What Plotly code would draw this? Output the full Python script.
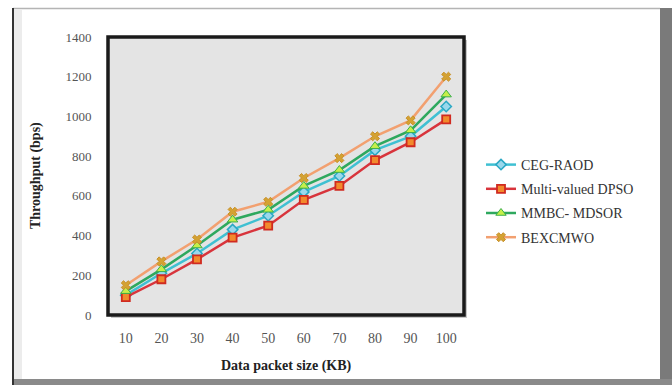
import plotly.graph_objects as go

categories = ["10", "20", "30", "40", "50", "60", "70", "80", "90", "100"]
ceg_raod = [100, 210, 310, 430, 500, 620, 700, 830, 900, 1050]
dpso = [90, 180, 280, 390, 450, 580, 650, 780, 870, 985]
mmbc = [120, 230, 350, 480, 530, 650, 730, 850, 930, 1110]
bexcmwo = [150, 270, 380, 520, 570, 690, 790, 900, 980, 1200]
y_ticks = [0, 200, 400, 600, 800, 1000, 1200, 1400]

W, H = 672, 385
L, R, T, B = 108, 464, 37, 315

def px(x):
    return (x - L) / (R - L)

def py(y):
    return (B - y) / (B - T)

fig = go.Figure()
series = [
    ("CEG-RAOD", ceg_raod, "#3fc0d2", dict(symbol="diamond", size=8, color="#9ad8ec", line=dict(color="#2aa8c4", width=1.5))),
    ("Multi-valued DPSO", dpso, "#d8343c", dict(symbol="square", size=8, color="#f28a2c", line=dict(color="#d02a20", width=1.8))),
    ("MMBC- MDSOR", mmbc, "#2ea85e", dict(symbol="triangle-up", size=9, color="#c6ef4a", line=dict(color="#3cb04a", width=1))),
    ("BEXCMWO", bexcmwo, "#f2a070", dict(symbol="x", size=8, color="#d4a232", line=dict(color="#c89028", width=1))),
]
for i, (name, vals, col, mk) in enumerate(series):
    fig.add_trace(go.Scatter(x=categories, y=vals, name=name, mode="lines+markers",
                             line=dict(color=col, width=2.5), marker=mk, legendgroup=str(i)))

shapes = []
# outer frame
shapes.append(dict(type="rect", xref="paper", yref="paper", x0=px(660), x1=px(672), y0=py(385), y1=py(8),
                   fillcolor="#7a7a7a", line=dict(width=0), layer="below"))
shapes.append(dict(type="rect", xref="paper", yref="paper", x0=px(13), x1=px(672), y0=py(385), y1=py(379),
                   fillcolor="#8a8a8a", line=dict(width=0), layer="below"))
shapes.append(dict(type="line", xref="paper", yref="paper", x0=px(13), x1=px(660), y0=py(8.5), y1=py(8.5),
                   line=dict(color="#b4b4b4", width=1.5)))
shapes.append(dict(type="line", xref="paper", yref="paper", x0=px(13), x1=px(13), y0=py(8), y1=py(385),
                   line=dict(color="#333333", width=2)))
shapes.append(dict(type="rect", xref="paper", yref="paper", x0=px(14), x1=px(22), y0=py(379), y1=py(10),
                   fillcolor="#ececec", line=dict(width=0), layer="below"))
# plot box shadow and border
shapes.append(dict(type="rect", xref="paper", yref="paper", x0=px(L + 3), x1=px(R + 3), y0=py(B + 3), y1=py(T + 3),
                   fillcolor="#c8c8c8", line=dict(width=0), layer="below"))
shapes.append(dict(type="rect", xref="paper", yref="paper", x0=0, x1=1, y0=0, y1=1,
                   fillcolor="#e4e4e4", line=dict(width=0), layer="below"))
shapes.append(dict(type="rect", xref="paper", yref="paper", x0=0, x1=1, y0=0, y1=1,
                   line=dict(color="#1a1a1a", width=3.5)))

serif = "Liberation Serif"
annotations = [
    dict(text="<b>Throughput (bps)</b>", xref="paper", yref="paper", x=px(36), y=py(176),
         xanchor="center", yanchor="middle",
         showarrow=False, textangle=-90, font=dict(family=serif, size=14, color="#222")),
    dict(text="<b>Data packet size (KB)</b>", xref="paper", yref="paper", x=px(286), y=py(366),
         xanchor="center", yanchor="middle",
         showarrow=False, font=dict(family=serif, size=14, color="#222")),
]

fig.update_layout(
    width=W, height=H,
    margin=dict(l=L, r=W - R, t=T, b=H - B, pad=0),
    paper_bgcolor="white", plot_bgcolor="rgba(0,0,0,0)",
    shapes=shapes, annotations=annotations,
    showlegend=True,
    legend=dict(x=px(481), y=py(149), xanchor="left", yanchor="top", tracegroupgap=3,
                font=dict(family=serif, size=14, color="#333"), bgcolor="rgba(0,0,0,0)"),
    xaxis=dict(type="category", range=[-0.5, 9.5], showgrid=False, zeroline=False, showline=False,
               ticks="outside", ticklen=10, tickcolor="rgba(0,0,0,0)",
               tickfont=dict(family=serif, size=14, color="#555")),
    yaxis=dict(range=[0, 1400], tickvals=y_ticks, showgrid=False, zeroline=False, showline=False,
               ticks="outside", ticklen=13, tickcolor="rgba(0,0,0,0)",
               tickfont=dict(family=serif, size=13, color="#555")),
)

fig.write_html("out.html")
